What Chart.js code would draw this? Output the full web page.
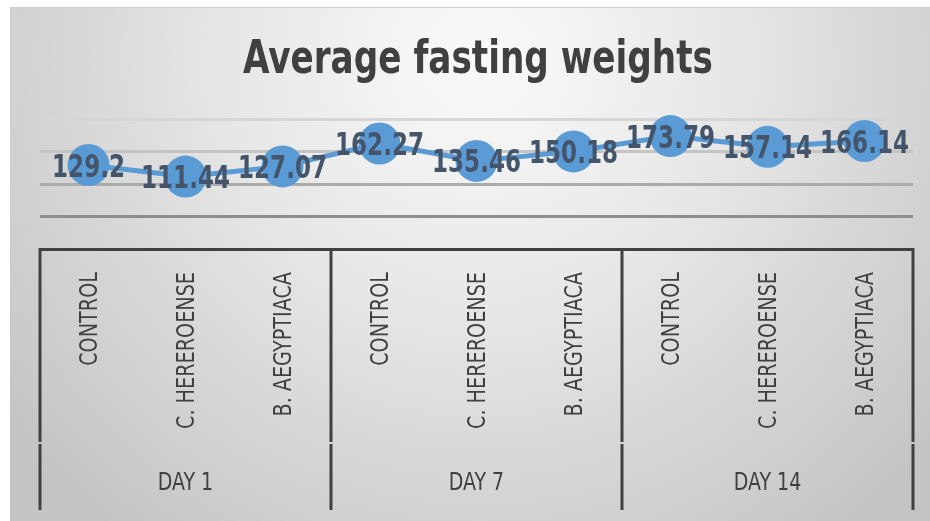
<!DOCTYPE html>
<html>
<head>
<meta charset="utf-8">
<script src="https://cdn.jsdelivr.net/npm/chart.js@4"></script>
<style>
    body { margin: 0; background: #ffffff; }
    #wrap { width: 930px; height: 521px; position: relative; }
</style>
</head>
<body>
<div id="wrap"><canvas id="weightChart"></canvas></div>
<script>
// Chart data
const titleText = 'Average fasting weights';
const groups = ['DAY 1', 'DAY 7', 'DAY 14'];
const treatments = ['CONTROL', 'C. HEREROENSE', 'B. AEGYPTIACA'];
const weights = [129.2, 111.44, 127.07, 162.27, 135.46, 150.18, 173.79, 157.14, 166.14];
const yTicks = [0, 50, 100, 150, 200];

const labels = [];
groups.forEach(() => treatments.forEach(t => labels.push(t)));

const FONT = "'DejaVu Sans Condensed', 'DejaVu Sans', sans-serif";
const gridColors = { 0: 'rgba(0,0,0,0)', 50: '#8e8e8e', 100: '#ababab', 150: '#c4c4c4', 200: '#d6d6d6' };

// draws text squeezed horizontally, to get close to the narrow font of the original
function narrowText(ctx, text, x, y, opts) {
    ctx.save();
    ctx.translate(x, y);
    if (opts.rotate) ctx.rotate(opts.rotate);
    ctx.scale(opts.sx, 1);
    ctx.font = opts.font;
    ctx.fillStyle = opts.color;
    ctx.textAlign = opts.align || 'center';
    ctx.textBaseline = 'alphabetic';
    ctx.fillText(text, 0, opts.dy || 0);
    ctx.restore();
}

// grey gradient panel behind the chart
const backgroundPlugin = {
    id: 'panelBg',
    beforeDraw(chart) {
        const ctx = chart.ctx;
        const g = ctx.createRadialGradient(480, 60, 0, 480, 60, 600);
        g.addColorStop(0, '#fafafa');
        g.addColorStop(0.4, '#e8e8e8');
        g.addColorStop(1, '#c4c4c4');
        ctx.save();
        ctx.fillStyle = g;
        ctx.fillRect(10, 8, 920, 513);
        ctx.fillStyle = '#d0d0d0';
        ctx.fillRect(10, 7, 920, 1);
        ctx.restore();
    }
};

// title, category labels, group separators and DAY labels
const textAxisPlugin = {
    id: 'textAxis',
    afterDraw(chart) {
        const ctx = chart.ctx;
        const x = chart.scales.x;
        const area = chart.chartArea;
        const n = treatments.length;

        narrowText(ctx, titleText, 478, 73, {
            font: 'bold 47px ' + FONT, color: '#404040', sx: 0.81
        });

        labels.forEach((lab, i) => {
            narrowText(ctx, lab, x.getPixelForValue(i), 272, {
                font: '24px ' + FONT, color: '#404040', sx: 0.89,
                rotate: -Math.PI / 2, align: 'right', dy: 8.5
            });
        });

        const bounds = [area.left];
        for (let g = 1; g < groups.length; g++) {
            bounds.push((x.getPixelForValue(g * n - 1) + x.getPixelForValue(g * n)) / 2);
        }
        bounds.push(area.right);

        ctx.save();
        ctx.strokeStyle = '#404040';
        ctx.lineWidth = 3;
        bounds.forEach(bx => {
            ctx.beginPath();
            ctx.moveTo(bx, area.bottom - 1);
            ctx.lineTo(bx, 442);
            ctx.moveTo(bx, 444);
            ctx.lineTo(bx, 510);
            ctx.stroke();
        });
        ctx.restore();

        groups.forEach((name, g) => {
            const cx = x.getPixelForValue(g * n + (n - 1) / 2);
            narrowText(ctx, name, cx, 490, {
                font: '24px ' + FONT, color: '#404040', sx: 0.88
            });
        });
    }
};

// value labels centred on each marker
const valueLabelPlugin = {
    id: 'valueLabels',
    afterDatasetsDraw(chart) {
        const ctx = chart.ctx;
        const meta = chart.getDatasetMeta(0);
        meta.data.forEach((pt, i) => {
            narrowText(ctx, String(weights[i]), pt.x, pt.y + 11.5, {
                font: 'bold 32px ' + FONT, color: '#44546a', sx: 0.8
            });
        });
    }
};

const ctx = document.getElementById('weightChart').getContext('2d');
const weightChart = new Chart(ctx, {
    type: 'line',
    data: {
        labels: labels,
        datasets: [{
            data: weights,
            borderColor: '#5b9bd5',
            backgroundColor: '#5b9bd5',
            borderWidth: 5,
            pointRadius: 21,
            pointBorderWidth: 0,
            pointBackgroundColor: '#5b9bd5',
            tension: 0,
            clip: false
        }]
    },
    options: {
        responsive: true,
        maintainAspectRatio: false,
        animation: false,
        devicePixelRatio: 1,
        layout: {
            autoPadding: false,
            padding: { top: 119, left: 40, right: 17, bottom: 0 }
        },
        plugins: {
            legend: { display: false },
            tooltip: { enabled: false },
            title: { display: false }
        },
        scales: {
            x: {
                offset: true,
                grid: { display: false },
                border: { display: true, color: '#404040', width: 3 },
                ticks: { display: false },
                afterFit: function(scale) {
                    scale.height = 272;
                }
            },
            y: {
                min: yTicks[0],
                max: yTicks[yTicks.length - 1],
                afterBuildTicks: function(scale) {
                    scale.ticks = yTicks.map(v => ({ value: v }));
                },
                ticks: { display: false },
                border: { display: false },
                grid: {
                    drawTicks: false,
                    lineWidth: 3,
                    color: function(c) {
                        return c.tick ? (gridColors[c.tick.value] || '#bbbbbb') : '#bbbbbb';
                    }
                },
                afterFit: function(scale) {
                    scale.width = 0;
                }
            }
        }
    },
    plugins: [backgroundPlugin, textAxisPlugin, valueLabelPlugin]
});
</script>
</body>
</html>
